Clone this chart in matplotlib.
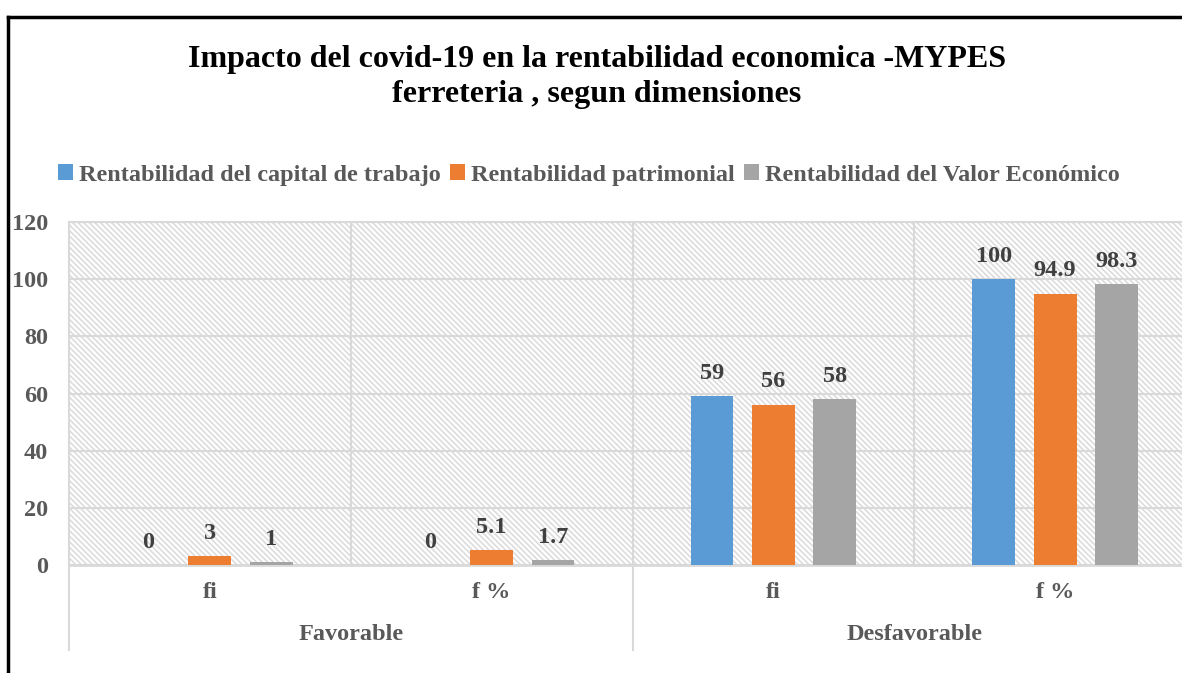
import numpy as np
import matplotlib
matplotlib.use("Agg")
import matplotlib.pyplot as plt
from matplotlib.patches import Rectangle
from matplotlib.lines import Line2D

# data
sub_labels = ["fi", "f %", "fi", "f %"]
group_labels = ["Favorable", "Desfavorable"]
series_names = ["Rentabilidad del capital de trabajo",
                "Rentabilidad patrimonial",
                "Rentabilidad del Valor Económico"]
capital = [0, 0, 59, 100]
patrimonial = [3, 5.1, 56, 94.9]
valor = [1, 1.7, 58, 98.3]

colors = ["#5B9BD5", "#ED7D31", "#A5A5A5"]
txt_gray = "#595959"
lab_gray = "#404040"
grid_c = "#D9D9D9"
fs = 17.5

plt.rcParams['font.family'] = ['Liberation Serif', 'DejaVu Serif']
plt.rcParams['hatch.linewidth'] = 1.2

fig = plt.figure(figsize=(11.82, 6.73), dpi=100)
ax = fig.add_axes([69/1182, 1-565/673, (1196-69)/1182, (565-222)/673])

x = np.arange(len(sub_labels))
w = 0.152
step = 0.218
all_series = [capital, patrimonial, valor]

# hatched background
ax.add_patch(Rectangle((0, 0), 1, 1, transform=ax.transAxes, facecolor="white",
                       edgecolor="#DCDCDC", hatch="\\\\\\\\\\\\", linewidth=0, zorder=0))

for i, vals in enumerate(all_series):
    bars = ax.bar(x + (i-1)*step, vals, w, color=colors[i], label=series_names[i], zorder=3)
    ax.bar_label(bars, labels=["%g" % v for v in vals], padding=9,
                 fontsize=fs, fontweight='bold', color=lab_gray)

ax.set_xlim(-0.5, 3.5)
ax.set_ylim(0, 120)
ax.set_yticks(range(0, 121, 20))
ax.yaxis.grid(True, color=grid_c, linewidth=1.5, zorder=1)
for b in [0.5, 1.5, 2.5]:
    ax.axvline(b, color=grid_c, linewidth=1.5, zorder=1)
for s in ["top", "right", "left"]:
    ax.spines[s].set_color(grid_c)
    ax.spines[s].set_linewidth(1.5)
ax.spines["bottom"].set_color(grid_c)
ax.spines["bottom"].set_linewidth(2)
ax.tick_params(axis='both', length=0, labelsize=fs, labelcolor=txt_gray)
for t in ax.get_yticklabels():
    t.set_fontweight('bold')
ax.set_xticks(x)
ax.set_xticklabels(sub_labels, fontweight='bold')
ax.tick_params(axis='x', pad=12)
ax.tick_params(axis='y', pad=15)
ax.set_axisbelow(True)

# category separators below the axis
trans = ax.get_xaxis_transform()
for b in [-0.5, 1.5, 3.5]:
    ax.add_line(Line2D([b, b], [0, -85/343], transform=trans, color=grid_c,
                       linewidth=1.5, clip_on=False))
for j, g in enumerate(group_labels):
    ax.text(0.5 + 2*j, -70/343, g, transform=trans, ha='center', va='center',
            fontsize=fs, fontweight='bold', color=txt_gray)

fig.text(597/1182, 1-77/673, "Impacto del covid-19 en la rentabilidad economica -MYPES\nferreteria , segun dimensiones",
         ha='center', va='center', fontsize=23, fontweight='bold', color='black', linespacing=1.25)

fig.legend(loc='center', bbox_to_anchor=(589/1182, 1-175/673), ncol=3, frameon=False,
           prop={'size': fs, 'weight': 'bold'}, labelcolor=txt_gray,
           handlelength=0.6, handleheight=0.6, handletextpad=0.25, columnspacing=0.4)

# outer frame (top and left edge)
fig.add_artist(Line2D([8/1182, 1], [1-17/673, 1-17/673], transform=fig.transFigure, color='black', linewidth=2.5))
fig.add_artist(Line2D([8/1182, 8/1182], [0, 1-17/673], transform=fig.transFigure, color='black', linewidth=2.5))

fig.savefig("out.png", dpi=100)
